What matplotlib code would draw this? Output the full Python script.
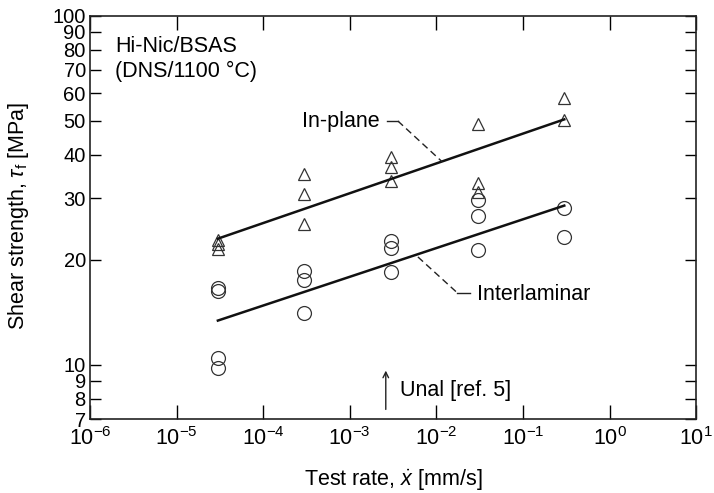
import numpy as np
import matplotlib.pyplot as plt
from matplotlib.ticker import FixedLocator, NullLocator

plt.rcParams['font.family'] = ['Liberation Sans', 'DejaVu Sans']
plt.rcParams['mathtext.fontset'] = 'custom'
plt.rcParams['mathtext.rm'] = 'Liberation Sans'
plt.rcParams['mathtext.it'] = 'Liberation Sans:italic'

# In-plane shear (triangles)
inplane_rate = [3e-5, 3e-5, 3e-5, 3e-4, 3e-4, 3e-4, 3e-3, 3e-3, 3e-3,
                3e-2, 3e-2, 3e-2, 3e-1, 3e-1]
inplane_tau = [22.8, 22.2, 21.5, 35.3, 30.9, 25.4, 39.5, 36.9, 33.7,
               49.1, 33.2, 31.3, 58.2, 50.4]

# Interlaminar shear (circles)
inter_rate = [3e-5, 3e-5, 3e-5, 3e-5, 3e-4, 3e-4, 3e-4, 3e-3, 3e-3, 3e-3,
              3e-2, 3e-2, 3e-2, 3e-1, 3e-1]
inter_tau = [16.6, 16.3, 10.5, 9.8, 18.6, 17.5, 14.1, 22.7, 21.6, 18.4,
             29.7, 26.7, 21.4, 28.2, 23.3]

# fitted lines (end points)
fit_rate = [3e-5, 3e-1]
fit_inplane = [23.0, 50.5]
fit_inter = [13.4, 28.6]

yticks = [7, 8, 9, 10, 20, 30, 40, 50, 60, 70, 80, 90, 100]

fs = 15.5

fig = plt.figure(figsize=(7.14, 4.93), dpi=100)
ax = fig.add_axes([0.126, 0.150, 0.849, 0.818])

ax.plot(inplane_rate, inplane_tau, '^', ms=9, mfc='none', mec='#333333', mew=0.9)
ax.plot(inter_rate, inter_tau, 'o', ms=10, mfc='none', mec='#333333', mew=0.9)
ax.plot(fit_rate, fit_inplane, '-', color='#111111', lw=1.8)
ax.plot(fit_rate, fit_inter, '-', color='#111111', lw=1.8)

ax.set_xscale('log')
ax.set_yscale('log')
ax.set_xlim(1e-6, 1e1)
ax.set_ylim(7, 100)

ax.xaxis.set_major_locator(FixedLocator([10.0**k for k in range(-6, 2)]))
ax.xaxis.set_minor_locator(NullLocator())
ax.set_xticklabels([r'$10^{%d}$' % k for k in range(-6, 2)])
ax.yaxis.set_major_locator(FixedLocator(yticks))
ax.yaxis.set_minor_locator(NullLocator())
ax.set_yticklabels([str(v) for v in yticks])

ax.tick_params(axis='x', direction='in', length=10, width=1, top=True,
               labelsize=fs, pad=6)
ax.tick_params(axis='y', direction='in', length=8, width=1, right=True,
               labelsize=14.5, pad=3)
for s in ax.spines.values():
    s.set_linewidth(1.2)
    s.set_color('#222222')

ax.set_xlabel(r'Test rate, $\dot{x}$ [mm/s]', fontsize=fs)
ax.set_ylabel(r'Shear strength, $\tau_\mathrm{f}$ [MPa]', fontsize=fs)
ax.xaxis.set_label_coords(0.5, -0.122)
ax.yaxis.set_label_coords(-0.098, 0.504)

ax.text(0.041, 0.923, 'Hi-Nic/BSAS', transform=ax.transAxes, fontsize=fs, va='center')
ax.text(0.041, 0.861, '(DNS/1100 °C)', transform=ax.transAxes, fontsize=fs, va='center')

# In-plane label with leader
ax.text(0.350, 0.739, 'In-plane', transform=ax.transAxes, fontsize=fs, va='center')
ax.plot([0.490, 0.508], [0.739, 0.739], transform=ax.transAxes, color='#222222', lw=1)
ax.plot([0.508, 0.581], [0.739, 0.638], transform=ax.transAxes, color='#222222',
        lw=1, ls=(0, (5, 3)))

# Interlaminar label with leader
ax.plot([0.541, 0.606], [0.402, 0.313], transform=ax.transAxes, color='#222222',
        lw=1, ls=(0, (5, 3)))
ax.plot([0.606, 0.627], [0.313, 0.313], transform=ax.transAxes, color='#222222', lw=1)
ax.text(0.639, 0.310, 'Interlaminar', transform=ax.transAxes, fontsize=fs, va='center')

# Unal arrow
ax.annotate('', xy=(0.488, 0.127), xytext=(0.488, 0.017), xycoords='axes fraction',
            arrowprops=dict(arrowstyle='->', color='#222222', lw=1))
ax.text(0.512, 0.072, 'Unal [ref. 5]', transform=ax.transAxes, fontsize=fs, va='center')

fig.savefig('out.png', dpi=100)
